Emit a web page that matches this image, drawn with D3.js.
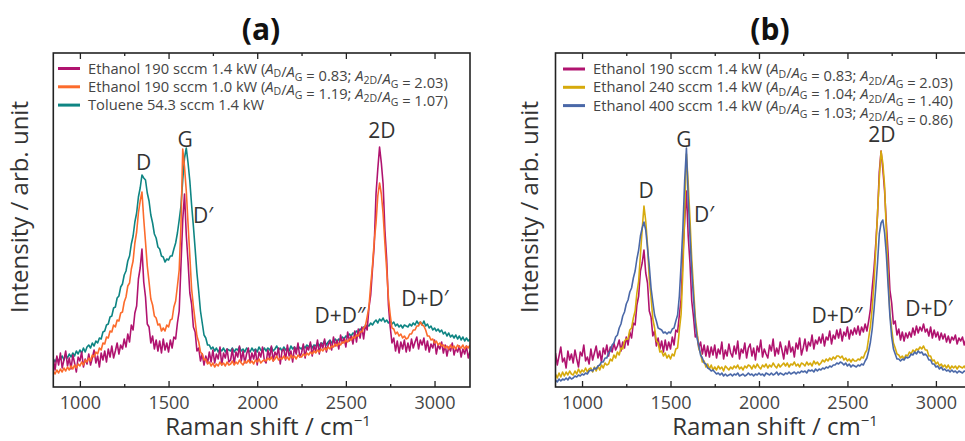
<!DOCTYPE html>
<html>
<head>
<meta charset="utf-8">
<script src="https://cdn.jsdelivr.net/npm/d3@7"></script>
<style>
  body { margin: 0; background: #fff; }
  svg { display: block; font-family: "Open Sans", sans-serif; }
</style>
</head>
<body>
<script>
// Raman shift grid (cm^-1), one point every 10 cm^-1
const shift = d3.range(850, 3201, 10);

// Panel (a) spectra, intensity in arbitrary units
const ethanol190_14kW_a = [
  28,17,31,22,34,19,27,36,21,29,
  18,32,24,15,30,26,35,20,28,23,
  33,22,29,37,24,31,20,34,27,36,
  25,38,30,41,29,36,44,33,42,38,
  48,40,53,45,62,57,74,81,108,119,
  138,105,90,63,60,44,51,38,47,36,
  46,34,48,37,44,35,47,39,50,48,
  64,76,122,167,193,152,125,94,83,60,
  55,36,39,26,33,22,31,24,35,25,
  37,24,33,28,40,22,34,29,38,25,
  27,38,23,35,30,41,26,36,24,33,
  39,25,34,28,37,22,35,30,40,27,
  24,37,29,41,26,35,31,39,23,36,
  38,27,42,31,36,25,40,33,44,30,
  34,43,29,40,37,45,31,41,36,47,
  33,44,39,48,35,42,46,37,50,41,
  47,38,52,44,49,40,55,46,51,43,
  56,45,58,49,60,48,62,57,79,92,
  118,142,193,218,240,224,203,157,128,82,
  60,44,49,36,46,34,45,38,47,35,
  44,36,48,39,45,50,38,47,42,49,
  37,46,35,43,39,47,33,42,38,45,
  34,42,31,40,36,44,32,39,35,41,
  30,38,33,41,29,36
];
const ethanol190_10kW = [
  16,13,17,14,18,15,19,16,20,17,
  21,18,22,19,23,21,25,22,27,25,
  29,26,32,30,35,33,39,37,44,43,
  50,49,56,55,62,60,67,66,74,75,
  85,90,101,104,118,126,144,155,174,186,
  195,168,145,121,105,88,82,71,69,62,
  63,56,59,56,62,60,67,68,80,86,
  101,117,162,238,220,196,163,131,98,81,
  66,51,45,35,33,27,28,23,25,21,
  24,20,23,21,25,22,24,21,25,22,
  23,26,22,25,23,27,24,22,26,24,
  27,24,26,23,27,25,28,24,26,27,
  26,29,27,30,26,28,31,27,29,28,
  31,28,30,27,32,29,31,28,32,30,
  30,33,31,34,32,35,33,36,34,37,
  35,38,36,39,37,40,38,41,40,43,
  41,44,42,45,44,47,45,48,47,50,
  49,52,51,55,55,59,61,70,80,102,
  121,146,164,191,204,193,173,144,118,89,
  72,59,58,53,55,51,53,49,51,48,
  49,53,53,57,57,61,61,65,62,61,
  57,51,51,47,48,44,46,42,44,41,
  42,39,41,38,42,39,41,38,42,40,
  39,42,38,41,39,42
];
const toluene543_14kW = [
  28,25,29,26,28,31,27,32,29,33,
  30,34,31,36,33,37,34,39,35,40,
  42,39,44,41,46,44,49,48,55,56,
  62,63,70,71,79,80,89,91,100,103,
  112,116,126,131,143,151,165,174,190,199,
  212,209,207,194,186,172,164,153,149,140,
  138,131,130,125,128,127,131,131,138,144,
  154,167,181,207,229,239,224,206,182,161,
  138,114,96,76,64,52,49,42,42,38,
  40,36,39,35,38,36,39,35,38,37,
  36,39,35,38,37,40,36,38,35,39,
  37,35,39,36,38,35,40,37,36,39,
  36,39,37,40,36,38,41,37,39,36,
  40,37,39,36,41,38,40,37,41,39,
  38,41,39,42,40,43,39,42,41,44,
  41,44,43,46,42,45,47,44,46,48,
  45,48,47,50,48,51,50,53,51,54,
  53,56,55,58,57,60,59,62,61,64,
  62,65,67,64,68,66,69,65,67,64,
  66,63,65,61,63,60,62,59,62,61,
  60,63,61,64,62,66,63,65,62,66,
  61,63,59,61,57,59,56,58,55,57,
  53,55,51,54,50,52,49,52,48,51,
  47,50,46,49,46,48
];

// Panel (b) spectra
const ethanol190_14kW_b = [
  34,22,31,40,25,29,19,36,27,33,
  24,37,28,20,35,31,42,26,30,23,
  38,27,34,41,29,36,25,39,33,42,
  31,40,35,44,37,41,47,36,45,39,
  50,42,55,49,64,62,82,91,116,124,
  137,114,104,76,70,51,56,41,49,38,
  46,35,47,37,45,38,50,42,57,55,
  72,88,131,166,196,151,124,86,70,50,
  53,39,45,33,42,31,41,30,40,32,
  42,29,38,33,45,28,37,31,43,34,
  30,41,33,46,28,38,34,44,29,39,
  43,31,39,27,41,35,47,30,38,33,
  29,42,36,48,31,39,33,45,37,28,
  41,33,46,35,40,30,44,38,49,32,
  39,48,36,45,41,52,38,47,43,50,
  44,53,41,50,47,56,43,52,48,57,
  49,58,46,55,51,60,48,57,52,59,
  53,61,52,60,55,63,56,66,78,99,
  118,143,172,215,236,218,196,163,133,97,
  84,63,66,52,58,47,55,46,54,49,
  55,50,59,52,61,54,60,56,63,55,
  58,51,60,49,57,50,55,47,54,48,
  53,45,51,44,50,47,52,43,49,46,
  50,42,48,45,51,44
];
const ethanol240_14kW = [
  13,9,14,10,15,11,15,12,16,13,
  12,16,13,18,14,17,15,19,15,18,
  19,15,20,16,21,17,22,19,24,22,
  23,28,26,32,29,35,32,39,38,46,
  48,48,57,59,69,76,94,106,132,158,
  181,166,142,108,90,68,59,46,44,35,
  36,31,34,29,32,28,33,31,38,39,
  57,73,117,173,233,204,168,128,99,70,
  55,38,34,25,26,20,23,18,22,17,
  20,17,21,18,20,16,21,19,17,20,
  18,21,19,22,18,20,17,21,19,22,
  21,18,22,19,23,20,18,22,20,23,
  19,22,20,24,21,19,23,20,22,24,
  21,24,20,23,22,25,21,23,20,24,
  23,21,25,22,24,21,26,23,25,22,
  24,27,25,28,26,29,27,30,28,31,
  31,29,31,27,29,26,28,25,28,26,
  26,28,27,30,29,34,37,49,61,79,
  104,137,174,208,236,224,201,153,112,74,
  58,44,39,33,32,29,31,28,32,31,
  35,33,37,35,38,37,40,38,41,37,
  37,31,31,26,27,23,25,21,23,20,
  22,19,22,18,21,19,21,18,21,20,
  19,21,18,21,19,20
];
const ethanol400_14kW = [
  7,5,8,6,8,7,9,7,10,8,
  9,11,10,12,11,13,12,14,13,16,
  17,16,19,18,21,22,25,25,29,29,
  34,36,42,44,50,52,59,63,71,75,
  83,87,95,99,109,116,128,137,151,159,
  165,157,139,121,99,85,72,66,59,58,
  57,54,55,53,55,54,58,59,66,72,
  91,123,159,206,239,189,151,116,89,64,
  49,41,32,29,24,23,19,18,16,17,
  15,13,14,12,14,11,13,11,12,13,
  11,13,12,14,11,12,13,11,12,14,
  12,13,11,13,12,14,12,13,11,14,
  13,12,14,12,13,15,12,14,13,12,
  14,13,15,13,14,15,13,15,14,16,
  15,16,14,17,16,17,15,18,16,18,
  17,19,18,20,19,21,20,22,22,24,
  23,25,24,22,24,21,23,20,22,21,
  20,22,21,23,22,26,29,36,45,58,
  77,99,124,153,164,167,154,132,101,71,
  50,38,33,28,28,26,28,27,30,29,
  30,33,32,35,33,36,34,35,32,33,
  31,27,27,23,23,20,21,18,20,17,
  18,16,17,15,17,15,16,14,16,15,
  14,16,15,14,16,15
];

// Legend texts
const namesA = ["Ethanol 190 sccm 1.4 kW", "Ethanol 190 sccm 1.0 kW", "Toluene 54.3 sccm 1.4 kW"];
const ratiosA = [["0.83", "2.03"], ["1.19", "1.07"], null];
const namesB = ["Ethanol 190 sccm 1.4 kW", "Ethanol 240 sccm 1.4 kW", "Ethanol 400 sccm 1.4 kW"];
const ratiosB = [["0.83", "2.03"], ["1.04", "1.40"], ["1.03", "0.86"]];

// Band labels: [text, Raman shift, intensity]
const bandsA = [["D", 1359, 225], ["G", 1593, 248], ["D\u2032", 1694, 172], ["2D", 2703, 257], ["D+D\u2033", 2467, 72], ["D+D\u2032", 2946, 89]];
const bandsB = [["D", 1362, 197], ["G", 1576, 248], ["D\u2032", 1689, 173], ["2D", 2695, 253], ["D+D\u2033", 2441, 72], ["D+D\u2032", 2961, 79]];

const majorTicks = [1000, 1500, 2000, 2500, 3000];
const minorTicks = [1250, 1750, 2250, 2750];

const colMagenta = "#b0136f", colOrange = "#fc6b2c", colTeal = "#0e8583",
      colYellow = "#d6aa0c", colBlue = "#4a68a8";
const textCol = "#333";

const W = 965, H = 441;
const svg = d3.select("body").append("svg").attr("width", W).attr("height", H);

const plotTop = 53, plotBottom = 387;
const y = d3.scaleLinear().domain([0, 334]).range([plotBottom, plotTop]);

function drawPanel(p) {
  const x = d3.scaleLinear().domain([850, 3200]).range([p.left, p.right]);
  const g = svg.append("g");
  const clipId = "clip-" + p.id;
  g.append("clipPath").attr("id", clipId).append("rect")
    .attr("x", p.left).attr("y", plotTop).attr("width", p.right - p.left).attr("height", plotBottom - plotTop);

  const line = d3.line().x((d, i) => x(shift[i])).y(d => y(d));
  const lines = g.append("g").attr("clip-path", `url(#${clipId})`);
  p.drawOrder.forEach(s => {
    lines.append("path").datum(s.values)
      .attr("d", line).attr("fill", "none")
      .attr("stroke", s.color).attr("stroke-width", 1.6)
      .attr("stroke-linejoin", "round");
  });

  // frame
  g.append("rect").attr("x", p.left).attr("y", plotTop)
    .attr("width", p.right - p.left).attr("height", plotBottom - plotTop)
    .attr("fill", "none").attr("stroke", "#222").attr("stroke-width", 1.6);

  // axes (ticks point inward)
  const styleAxis = sel => {
    sel.select(".domain").remove();
    sel.selectAll("line").attr("stroke", "#222").attr("stroke-width", 1.3);
    sel.selectAll("text").attr("fill", "#444").style("font-size", "18px")
      .style("font-family", "'Open Sans', sans-serif");
  };
  g.append("g").attr("transform", `translate(0,${plotBottom})`)
    .call(d3.axisBottom(x).tickValues(majorTicks).tickSize(-6).tickPadding(9).tickFormat(d3.format("d")))
    .call(styleAxis);
  g.append("g").attr("transform", `translate(0,${plotBottom})`)
    .call(d3.axisBottom(x).tickValues(minorTicks).tickSize(-3).tickFormat(""))
    .call(styleAxis);
  g.append("g").attr("transform", `translate(0,${plotTop})`)
    .call(d3.axisTop(x).tickValues(majorTicks).tickSize(-6).tickFormat(""))
    .call(styleAxis);
  g.append("g").attr("transform", `translate(0,${plotTop})`)
    .call(d3.axisTop(x).tickValues(minorTicks).tickSize(-3).tickFormat(""))
    .call(styleAxis);

  // panel title
  g.append("text").attr("x", p.titleX).attr("y", 40).attr("text-anchor", "middle")
    .attr("fill", "#111").style("font-size", "30px").style("font-weight", "bold")
    .text(p.title);

  // axis titles
  const xt = g.append("text").attr("x", p.xTitleX).attr("y", 435).attr("text-anchor", "middle")
    .attr("fill", textCol).style("font-size", "24px");
  xt.append("tspan").text("Raman shift / cm");
  xt.append("tspan").attr("dy", -9).style("font-size", "15px").text("\u22121");

  g.append("text").attr("transform", `translate(${p.yTitleX},${207}) rotate(-90)`)
    .attr("text-anchor", "middle").attr("fill", textCol).style("font-size", "24px")
    .text("Intensity / arb. unit");

  // band labels
  g.selectAll(".band").data(p.bands).enter().append("text")
    .attr("x", d => x(d[1])).attr("y", d => y(d[2]))
    .attr("dy", "0.36em").attr("text-anchor", "middle")
    .attr("fill", textCol).style("font-size", "21px")
    .text(d => d[0]);

  // legend
  p.legend.forEach((e, i) => {
    const ly = p.legendY + i * 18.3;
    g.append("line").attr("x1", p.legendX).attr("x2", p.legendX + 22)
      .attr("y1", ly).attr("y2", ly).attr("stroke", e.color).attr("stroke-width", 3);
    const t = g.append("text").attr("x", p.legendX + 30).attr("y", ly + 5)
      .attr("fill", "#444").style("font-size", "14.7px");
    t.append("tspan").text(e.name);
    if (e.ratio) {
      const sub = s => { t.append("tspan").attr("dy", 3.5).style("font-size", "10.5px").text(s); t.append("tspan").attr("dy", -3.5).text(""); };
      const A = () => t.append("tspan").style("font-style", "italic").text("A");
      t.append("tspan").text(" (");
      A(); sub("D"); t.append("tspan").text("/"); A(); sub("G");
      t.append("tspan").text(" = " + e.ratio[0] + "; ");
      A(); sub("2D"); t.append("tspan").text("/"); A(); sub("G");
      t.append("tspan").text(" = " + e.ratio[1] + ")");
    }
  });
}

drawPanel({
  id: "a", left: 53.3, right: 470, title: "(a)", titleX: 261, xTitleX: 268, yTitleX: 28,
  drawOrder: [
    { values: toluene543_14kW, color: colTeal },
    { values: ethanol190_14kW_a, color: colMagenta },
    { values: ethanol190_10kW, color: colOrange }
  ],
  legend: namesA.map((n, i) => ({ name: n, ratio: ratiosA[i], color: [colMagenta, colOrange, colTeal][i] })),
  legendX: 58, legendY: 68.5,
  bands: bandsA
});

drawPanel({
  id: "b", left: 555.5, right: 971.3, title: "(b)", titleX: 770, xTitleX: 775, yTitleX: 538,
  drawOrder: [
    { values: ethanol190_14kW_b, color: colMagenta },
    { values: ethanol240_14kW, color: colYellow },
    { values: ethanol400_14kW, color: colBlue }
  ],
  legend: namesB.map((n, i) => ({ name: n, ratio: ratiosB[i], color: [colMagenta, colYellow, colBlue][i] })),
  legendX: 563, legendY: 69,
  bands: bandsB
});
</script>
</body>
</html>
